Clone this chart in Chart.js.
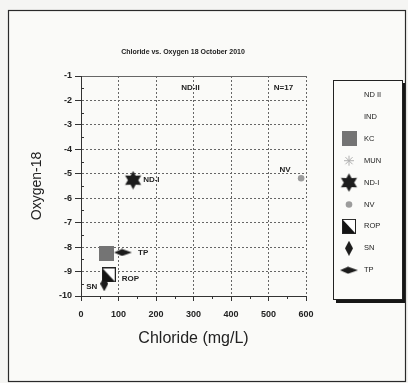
<!DOCTYPE html>
<html><head><meta charset="utf-8">
<script src="https://cdn.jsdelivr.net/npm/chart.js@4/dist/chart.umd.min.js"></script>
<style>html,body{margin:0;padding:0;background:#f5f5f3;}#wrap{width:408px;height:383px;position:relative;}</style>
</head><body><div id="wrap"><canvas id="c" width="408" height="383"></canvas></div>
<script>
// ---- data ----
const sites      = ['ND II', 'IND', 'KC', 'MUN', 'ND-I', 'NV', 'ROP', 'SN', 'TP'];
const chloride   = [243, null, 68, null, 139, 587, 74, 62, 112];
const oxygen18   = [-1.5, null, -8.26, null, -5.26, -5.18, -9.14, -9.5, -8.22];
const pointNames = ['ND-II', '', '', '', 'ND-I', 'NV', 'ROP', 'SN', 'TP'];
const xTicks     = [0, 100, 200, 300, 400, 500, 600];
const yTicks     = [-1, -2, -3, -4, -5, -6, -7, -8, -9, -10];
const noteText   = 'N=17';
const noteX      = 540;
const noteY      = -1.5;
const chartTitle = 'Chloride vs. Oxygen 18 October 2010';
const xTitle     = 'Chloride (mg/L)';
const yTitle     = 'Oxygen-18';

// ---- marker images (styling) ----
function mk(w, h, fn){ const c = document.createElement('canvas'); c.width = w; c.height = h; fn(c.getContext('2d'), w, h); return c; }
const imgKC = mk(15, 15, (g,w,h)=>{ g.fillStyle='#747474'; g.fillRect(0,0,w,h); });
const imgStar = mk(19, 19, (g,w,h)=>{ g.fillStyle='#1c1c1c'; g.beginPath();
  for(let i=0;i<12;i++){ const a=-Math.PI/2+i*Math.PI/6; const r=(i%2)?5.2:9.3; g.lineTo(w/2+r*Math.cos(a), h/2+r*Math.sin(a)); }
  g.closePath(); g.fill(); });
const imgTP = mk(18, 8, (g,w,h)=>{ g.fillStyle='#1c1c1c'; g.beginPath(); g.moveTo(0,4); g.lineTo(8,0.5); g.lineTo(18,4); g.lineTo(8,7.5); g.closePath(); g.fill(); });
const imgSN = mk(8, 15, (g,w,h)=>{ g.fillStyle='#1c1c1c'; g.beginPath(); g.moveTo(4,0); g.lineTo(8,7.5); g.lineTo(4,15); g.lineTo(0,7.5); g.closePath(); g.fill(); });
const imgROP = mk(14, 15, (g,w,h)=>{ g.fillStyle='#ffffff'; g.fillRect(0,0,w,h); g.fillStyle='#141414'; g.beginPath(); g.moveTo(0.5,0.5); g.lineTo(0.5,h-0.5); g.lineTo(w-0.5,h-0.5); g.closePath(); g.fill(); g.strokeStyle='#222'; g.lineWidth=1; g.strokeRect(0.5,0.5,w-1,h-1); });

const styles = [
  {pointStyle:'circle', radius:3, bg:'rgba(255,255,255,0)', border:'rgba(255,255,255,0)', bw:0},
  {pointStyle:'circle', radius:3, bg:'rgba(255,255,255,0)', border:'rgba(255,255,255,0)', bw:0},
  {pointStyle:imgKC, radius:8, bg:'#747474', border:'#747474', bw:0},
  {pointStyle:'star', radius:5, bg:'#b5b5b5', border:'#b0b0b0', bw:1},
  {pointStyle:imgStar, radius:9, bg:'#1c1c1c', border:'#1c1c1c', bw:0},
  {pointStyle:'circle', radius:3.3, bg:'#9c9c9c', border:'#9c9c9c', bw:0},
  {pointStyle:imgROP, radius:8, bg:'#141414', border:'#222', bw:0},
  {pointStyle:imgSN, radius:8, bg:'#1c1c1c', border:'#1c1c1c', bw:0},
  {pointStyle:imgTP, radius:8, bg:'#1c1c1c', border:'#1c1c1c', bw:0}
];
const labelPos = [
  {dx:9, dy:0, align:'left'}, null, null, null,
  {dx:10, dy:0, align:'left'},
  {dx:-16, dy:-8, align:'center'},
  {dx:13, dy:4, align:'left'},
  {dx:-7, dy:3, align:'right'},
  {dx:15, dy:0, align:'left'}
];

const datasets = sites.map((s, i) => ({
  label: s,
  data: chloride[i] === null ? [] : [{x: chloride[i], y: oxygen18[i]}],
  pointStyle: styles[i].pointStyle,
  pointRadius: styles[i].radius,
  pointHoverRadius: styles[i].radius,
  backgroundColor: styles[i].bg,
  borderColor: styles[i].border,
  pointBorderWidth: styles[i].bw,
  borderWidth: styles[i].bw
}));

const FONT = '"Liberation Sans", Arial, sans-serif';

const framePlugin = {
  id: 'frame',
  beforeDraw(chart){
    const c = chart.ctx; c.save();
    c.fillStyle = '#f5f5f3'; c.fillRect(0,0,408,383);
    c.fillStyle = '#fafaf8'; c.fillRect(8,10,397,371);
    c.strokeStyle = '#2a2a2a'; c.lineWidth = 1.2; c.strokeRect(8.5,10.5,397,371);
    c.fillStyle = '#222'; c.font = 'bold 7px ' + FONT; c.textAlign = 'center'; c.textBaseline = 'middle';
    c.fillText(chartTitle, 183, 52);
    c.restore();
  }
};

const minorTicks = {
  id: 'minorTicks',
  afterDraw(chart){
    const c = chart.ctx, xs = chart.scales.x, ys = chart.scales.y, a = chart.chartArea;
    c.save(); c.strokeStyle = '#333'; c.lineWidth = 1; c.beginPath();
    for (let i = 0; i < xTicks.length - 1; i++) { const px = Math.round(xs.getPixelForValue((xTicks[i]+xTicks[i+1])/2)) + 0.5; c.moveTo(px, a.bottom); c.lineTo(px, a.bottom + 3); }
    for (let i = 0; i < yTicks.length - 1; i++) { const py = Math.round(ys.getPixelForValue((yTicks[i]+yTicks[i+1])/2)) + 0.5; c.moveTo(a.left, py); c.lineTo(a.left + 3, py); }
    c.stroke(); c.restore();
  }
};

const labelsPlugin = {
  id: 'pointLabels',
  afterDatasetsDraw(chart){
    const c = chart.ctx; c.save();
    c.font = 'bold 8px ' + FONT; c.fillStyle = '#222'; c.textBaseline = 'middle';
    chart.data.datasets.forEach((ds, i) => {
      const meta = chart.getDatasetMeta(i);
      if (!pointNames[i] || !meta.data.length || !labelPos[i]) return;
      const el = meta.data[0];
      c.textAlign = labelPos[i].align;
      c.fillText(pointNames[i], el.x + labelPos[i].dx, el.y + labelPos[i].dy);
    });
    c.textAlign = 'center';
    c.fillText(noteText, chart.scales.x.getPixelForValue(noteX), chart.scales.y.getPixelForValue(noteY));
    c.restore();
  }
};

const boxLegend = {
  id: 'boxLegend',
  afterDraw(chart){
    const c = chart.ctx; c.save();
    const L = 333, T = 80, W = 69, H = 219;
    c.fillStyle = '#161616'; c.fillRect(L+3, T+H, W, 4); c.fillRect(L+W, T+3, 3, H+1);
    c.fillStyle = '#fbfbf9'; c.fillRect(L, T, W, H);
    c.strokeStyle = '#222'; c.lineWidth = 1; c.strokeRect(L+0.5, T+0.5, W, H);
    const step = 21.9;
    chart.data.datasets.forEach((ds, i) => {
      const y = T + 15 + i*step, x = 349;
      c.fillStyle = ds.backgroundColor; c.strokeStyle = ds.borderColor; c.lineWidth = ds.pointBorderWidth || 0;
      if (Chart.helpers && Chart.helpers.drawPoint) {
        Chart.helpers.drawPoint(c, {pointStyle: ds.pointStyle, radius: ds.pointRadius, borderWidth: ds.pointBorderWidth, rotation: 0}, x, y);
      }
      c.fillStyle = '#222'; c.font = '7.5px ' + FONT; c.textAlign = 'left'; c.textBaseline = 'middle';
      c.fillText(ds.label, 364, y);
    });
    c.restore();
  }
};

new Chart(document.getElementById('c'), {
  type: 'scatter',
  data: { datasets },
  plugins: [framePlugin, minorTicks, labelsPlugin, boxLegend],
  options: {
    responsive: false, animation: false, devicePixelRatio: 1,
    layout: { padding: { left: 18, right: 102, top: 76, bottom: 35 } },
    plugins: {
      legend: { display: false },
      tooltip: { enabled: false },
      title: { display: false }
    },
    scales: {
      x: {
        type: 'linear', min: 0, max: 600,
        afterBuildTicks: s => { s.ticks = xTicks.map(v => ({value: v})); },
        afterFit: s => { s.height = 52; },
        ticks: { color: '#222', font: { family: FONT, size: 9, weight: 'bold' }, padding: 8, maxRotation: 0 },
        grid: { color: '#666', lineWidth: 1, tickLength: 5, tickColor: '#333', tickBorderDash: [] },
        border: { display: true, color: '#333', width: 1, dash: [2, 2] },
        title: { display: true, text: xTitle, color: '#222', font: { family: FONT, size: 16 }, padding: 0 }
      },
      y: {
        type: 'linear', min: -10, max: -1,
        afterBuildTicks: s => { s.ticks = yTicks.slice().reverse().map(v => ({value: v})); },
        afterFit: s => { s.width = 63; },
        ticks: { color: '#222', font: { family: FONT, size: 9, weight: 'bold' }, padding: 3 },
        grid: { color: '#666', lineWidth: 1, tickLength: 6, tickColor: '#333', tickBorderDash: [] },
        border: { display: true, color: '#333', width: 1, dash: ctx => (ctx.tick && ctx.tick.value === -1) ? [] : [2, 2] },
        title: { display: true, text: yTitle, color: '#222', font: { family: FONT, size: 14 }, padding: { top: 11, bottom: 0 } }
      }
    }
  }
});
</script></body></html>
